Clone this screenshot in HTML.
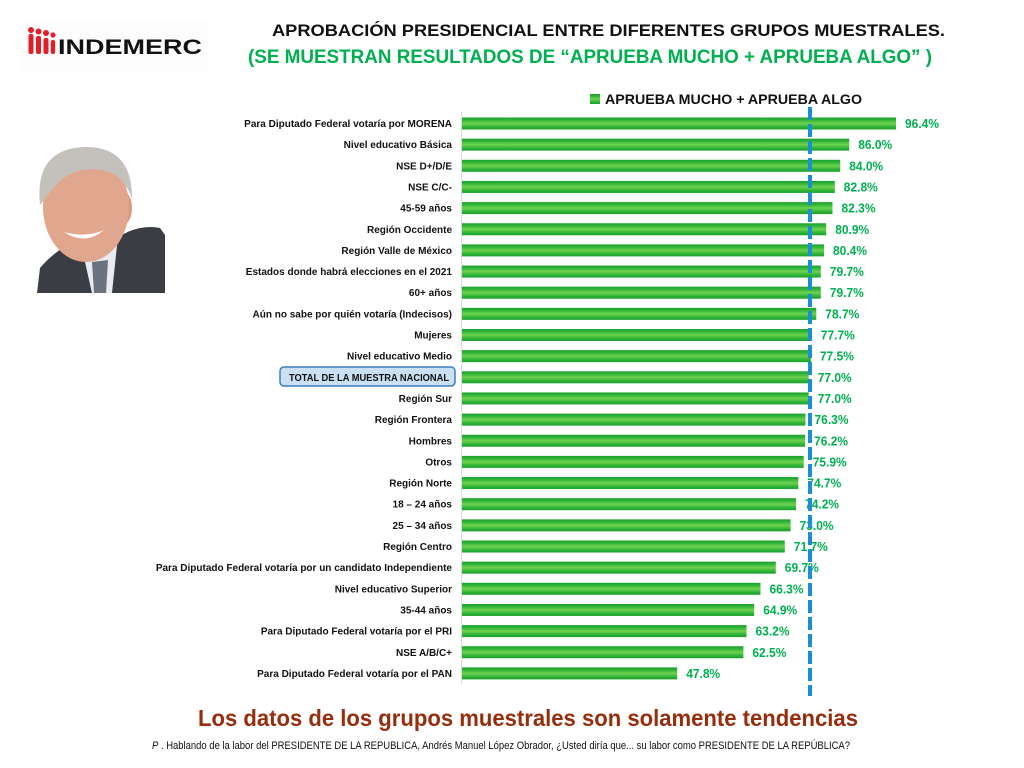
<!DOCTYPE html>
<html><head><meta charset="utf-8"><style>
html,body{margin:0;padding:0;background:#fff;}
svg{display:block;}
.lb{font-family:"Liberation Sans",sans-serif;font-weight:bold;font-size:10px;fill:#111;text-anchor:end;}
.vl{font-family:"Liberation Sans",sans-serif;font-weight:bold;font-size:13px;fill:#00b050;}
</style></head><body>
<svg width="1024" height="768" viewBox="0 0 1024 768" xmlns="http://www.w3.org/2000/svg">
<defs>
<linearGradient id="g" x1="0" y1="0" x2="0" y2="1">
<stop offset="0" stop-color="#1c9f2a"/><stop offset="0.2" stop-color="#2cb338"/><stop offset="0.5" stop-color="#6fd24e"/><stop offset="0.8" stop-color="#2cb338"/><stop offset="1" stop-color="#1c9f2a"/>
</linearGradient>
</defs>
<rect width="1024" height="768" fill="#fff"/>
<!-- logo -->
<rect x="22" y="22" width="186" height="50" fill="#fdfdfd"/>
<g fill="#e3202a">
<circle cx="31" cy="30" r="3"/><rect x="28.5" y="34" width="5" height="20" rx="2"/>
<circle cx="38.5" cy="31.5" r="3"/><rect x="36" y="36" width="5" height="18" rx="2"/>
<circle cx="46" cy="33" r="3"/><rect x="43.5" y="38" width="5" height="16" rx="2"/>
<circle cx="53" cy="35" r="2.6"/><rect x="50.8" y="40" width="4.4" height="14" rx="2"/>
</g>
<text x="58" y="54" font-family="Liberation Sans,sans-serif" font-size="21" font-weight="bold" fill="#111" textLength="144" lengthAdjust="spacingAndGlyphs">INDEMERC</text>
<!-- titles -->
<text x="272" y="36" font-family="Liberation Sans,sans-serif" font-size="17" font-weight="bold" fill="#111" textLength="673" lengthAdjust="spacingAndGlyphs">APROBACIÓN PRESIDENCIAL ENTRE DIFERENTES GRUPOS MUESTRALES.</text>
<text x="248" y="63" font-family="Liberation Sans,sans-serif" font-size="19" font-weight="bold" fill="#00b050" textLength="684" lengthAdjust="spacingAndGlyphs">(SE MUESTRAN RESULTADOS DE  “APRUEBA MUCHO + APRUEBA ALGO” )</text>
<!-- legend -->
<rect x="590" y="94" width="10" height="10" fill="url(#g)"/>
<text x="605" y="104" font-family="Liberation Sans,sans-serif" font-size="14" font-weight="bold" fill="#111" textLength="257" lengthAdjust="spacingAndGlyphs">APRUEBA MUCHO + APRUEBA ALGO</text>
<!-- photo -->
<g>
<path d="M37 293 L40 268 Q55 250 80 238 L120 236 Q140 224 160 228 L165 235 L165 293 Z" fill="#3a3d44"/>
<path d="M80 240 L118 236 L112 293 L92 293 Z" fill="#e8ebef"/>
<path d="M92 262 L108 260 L106 293 L94 293 Z" fill="#6b7280"/>
<ellipse cx="124" cy="208" rx="8" ry="16" fill="#d99a82"/>
<ellipse cx="86" cy="207" rx="43" ry="55" fill="#e0a78e"/>
<path d="M40 205 Q34 148 86 147 Q132 147 132 198 Q122 172 100 170 Q70 165 50 192 Z" fill="#c4c1bd"/>
<path d="M64 232 Q85 246 104 230 Q86 238 64 232 Z" fill="#fff"/>
</g>
<!-- axis -->
<line x1="461.5" y1="112" x2="461.5" y2="684" stroke="#dcdcdc" stroke-width="1"/>
<!-- TOTAL box -->
<rect x="280" y="367" width="175" height="19" rx="4" fill="#c9e0f5" stroke="#3d7cc0" stroke-width="1.5"/>
<!-- bars -->
<g fill="url(#g)">
<rect x="462" y="117.5" width="434.0" height="12"/>
<rect x="462" y="138.65" width="387.2" height="12"/>
<rect x="462" y="159.8" width="378.2" height="12"/>
<rect x="462" y="180.95" width="372.8" height="12"/>
<rect x="462" y="202.1" width="370.5" height="12"/>
<rect x="462" y="223.25" width="364.2" height="12"/>
<rect x="462" y="244.4" width="362.0" height="12"/>
<rect x="462" y="265.55" width="358.8" height="12"/>
<rect x="462" y="286.7" width="358.8" height="12"/>
<rect x="462" y="307.85" width="354.3" height="12"/>
<rect x="462" y="329.0" width="349.8" height="12"/>
<rect x="462" y="350.15" width="348.9" height="12"/>
<rect x="462" y="371.3" width="346.7" height="12"/>
<rect x="462" y="392.45" width="346.7" height="12"/>
<rect x="462" y="413.6" width="343.5" height="12"/>
<rect x="462" y="434.75" width="343.1" height="12"/>
<rect x="462" y="455.9" width="341.7" height="12"/>
<rect x="462" y="477.05" width="336.3" height="12"/>
<rect x="462" y="498.2" width="334.1" height="12"/>
<rect x="462" y="519.35" width="328.6" height="12"/>
<rect x="462" y="540.5" width="322.8" height="12"/>
<rect x="462" y="561.65" width="313.8" height="12"/>
<rect x="462" y="582.8" width="298.5" height="12"/>
<rect x="462" y="603.95" width="292.2" height="12"/>
<rect x="462" y="625.1" width="284.5" height="12"/>
<rect x="462" y="646.25" width="281.4" height="12"/>
<rect x="462" y="667.4" width="215.2" height="12"/>
</g>
<!-- labels -->
<text class="lb" x="452" y="127">Para Diputado Federal votaría por MORENA</text>
<text class="lb" x="452" y="148.15">Nivel educativo Básica</text>
<text class="lb" x="452" y="169.3">NSE D+/D/E</text>
<text class="lb" x="452" y="190.45">NSE C/C-</text>
<text class="lb" x="452" y="211.6">45-59 años</text>
<text class="lb" x="452" y="232.75">Región Occidente</text>
<text class="lb" x="452" y="253.9">Región Valle de México</text>
<text class="lb" x="452" y="275.05">Estados donde habrá elecciones en el 2021</text>
<text class="lb" x="452" y="296.2">60+ años</text>
<text class="lb" x="452" y="317.35">Aún no sabe por quién votaría (Indecisos)</text>
<text class="lb" x="452" y="338.5">Mujeres</text>
<text class="lb" x="452" y="359.65">Nivel educativo Medio</text>
<text class="lb" x="449" y="380.8" textLength="160" lengthAdjust="spacingAndGlyphs">TOTAL DE LA MUESTRA NACIONAL</text>
<text class="lb" x="452" y="401.95">Región Sur</text>
<text class="lb" x="452" y="423.1">Región Frontera</text>
<text class="lb" x="452" y="444.25">Hombres</text>
<text class="lb" x="452" y="465.4">Otros</text>
<text class="lb" x="452" y="486.55">Región Norte</text>
<text class="lb" x="452" y="507.7">18 – 24 años</text>
<text class="lb" x="452" y="528.85">25 – 34 años</text>
<text class="lb" x="452" y="550">Región Centro</text>
<text class="lb" x="452" y="571.15">Para Diputado Federal votaría por un candidato Independiente</text>
<text class="lb" x="452" y="592.3">Nivel educativo Superior</text>
<text class="lb" x="452" y="613.45">35-44 años</text>
<text class="lb" x="452" y="634.6">Para Diputado Federal votaría por el PRI</text>
<text class="lb" x="452" y="655.75">NSE A/B/C+</text>
<text class="lb" x="452" y="676.9">Para Diputado Federal votaría por el PAN</text>
<!-- values -->
<text class="vl" x="905" y="128" textLength="34" lengthAdjust="spacingAndGlyphs">96.4%</text>
<text class="vl" x="858.2" y="149.15" textLength="34" lengthAdjust="spacingAndGlyphs">86.0%</text>
<text class="vl" x="849.2" y="170.3" textLength="34" lengthAdjust="spacingAndGlyphs">84.0%</text>
<text class="vl" x="843.8" y="191.45" textLength="34" lengthAdjust="spacingAndGlyphs">82.8%</text>
<text class="vl" x="841.5" y="212.6" textLength="34" lengthAdjust="spacingAndGlyphs">82.3%</text>
<text class="vl" x="835.2" y="233.75" textLength="34" lengthAdjust="spacingAndGlyphs">80.9%</text>
<text class="vl" x="833" y="254.9" textLength="34" lengthAdjust="spacingAndGlyphs">80.4%</text>
<text class="vl" x="829.8" y="276.05" textLength="34" lengthAdjust="spacingAndGlyphs">79.7%</text>
<text class="vl" x="829.8" y="297.2" textLength="34" lengthAdjust="spacingAndGlyphs">79.7%</text>
<text class="vl" x="825.3" y="318.35" textLength="34" lengthAdjust="spacingAndGlyphs">78.7%</text>
<text class="vl" x="820.8" y="339.5" textLength="34" lengthAdjust="spacingAndGlyphs">77.7%</text>
<text class="vl" x="819.9" y="360.65" textLength="34" lengthAdjust="spacingAndGlyphs">77.5%</text>
<text class="vl" x="817.7" y="381.8" textLength="34" lengthAdjust="spacingAndGlyphs">77.0%</text>
<text class="vl" x="817.7" y="402.95" textLength="34" lengthAdjust="spacingAndGlyphs">77.0%</text>
<text class="vl" x="814.5" y="424.1" textLength="34" lengthAdjust="spacingAndGlyphs">76.3%</text>
<text class="vl" x="814.1" y="445.25" textLength="34" lengthAdjust="spacingAndGlyphs">76.2%</text>
<text class="vl" x="812.7" y="466.4" textLength="34" lengthAdjust="spacingAndGlyphs">75.9%</text>
<text class="vl" x="807.3" y="487.55" textLength="34" lengthAdjust="spacingAndGlyphs">74.7%</text>
<text class="vl" x="805.1" y="508.7" textLength="34" lengthAdjust="spacingAndGlyphs">74.2%</text>
<text class="vl" x="799.6" y="529.85" textLength="34" lengthAdjust="spacingAndGlyphs">73.0%</text>
<text class="vl" x="793.8" y="551" textLength="34" lengthAdjust="spacingAndGlyphs">71.7%</text>
<text class="vl" x="784.8" y="572.15" textLength="34" lengthAdjust="spacingAndGlyphs">69.7%</text>
<text class="vl" x="769.5" y="593.3" textLength="34" lengthAdjust="spacingAndGlyphs">66.3%</text>
<text class="vl" x="763.2" y="614.45" textLength="34" lengthAdjust="spacingAndGlyphs">64.9%</text>
<text class="vl" x="755.5" y="635.6" textLength="34" lengthAdjust="spacingAndGlyphs">63.2%</text>
<text class="vl" x="752.4" y="656.75" textLength="34" lengthAdjust="spacingAndGlyphs">62.5%</text>
<text class="vl" x="686.2" y="677.9" textLength="34" lengthAdjust="spacingAndGlyphs">47.8%</text>
<!-- dashed line -->
<line x1="810" y1="107" x2="810" y2="696" stroke="#1b8fd6" stroke-width="4" stroke-dasharray="13 4"/>
<!-- footer -->
<text x="198" y="726" font-family="Liberation Sans,sans-serif" font-size="23" font-weight="bold" fill="#962d0c" textLength="660" lengthAdjust="spacingAndGlyphs">Los datos de los grupos muestrales son solamente tendencias</text>
<text x="152" y="749" font-family="Liberation Sans,sans-serif" font-size="11" fill="#111" textLength="698" lengthAdjust="spacingAndGlyphs"><tspan font-style="italic">P</tspan> . Hablando de la labor del PRESIDENTE DE LA REPUBLICA, Andrés Manuel López Obrador, ¿Usted diría que... su labor como PRESIDENTE DE LA REPÚBLICA?</text>
</svg>
</body></html>
